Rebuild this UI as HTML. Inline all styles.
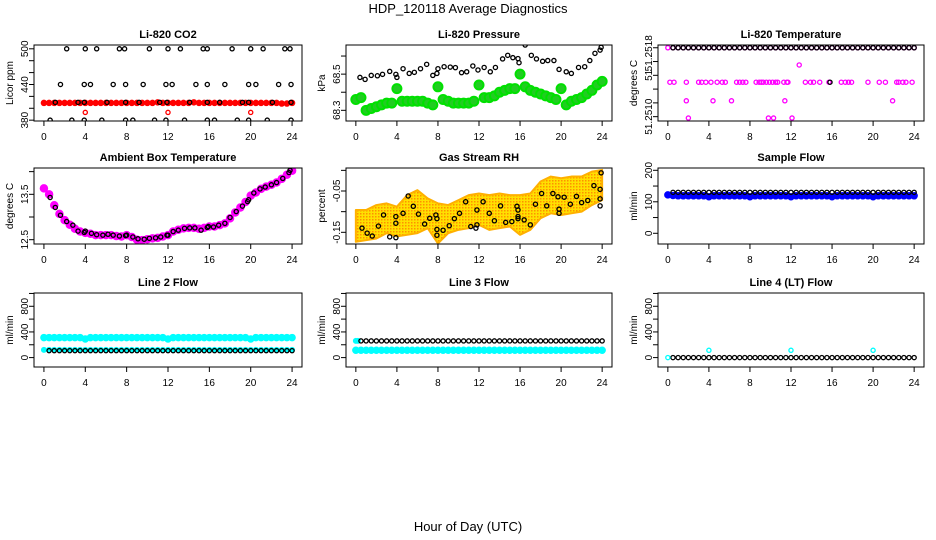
<!DOCTYPE html>
<html><head><meta charset="utf-8"><style>
html,body{margin:0;padding:0;background:#fff;}
svg{display:block;font-family:"Liberation Sans",sans-serif;}
</style></head><body>
<svg id="fig" width="936" height="540" viewBox="0 0 936 540">
<defs>
<pattern id="orangeDots" width="3" height="3" patternUnits="userSpaceOnUse">
<rect width="3" height="3" fill="#ffe000"/><rect width="1.5" height="1.5" fill="#ff9000"/>
</pattern>
</defs>
<text x="468" y="13" text-anchor="middle" font-size="13">HDP_120118  Average Diagnostics</text>
<text x="468" y="531" text-anchor="middle" font-size="13">Hour of Day (UTC)</text>
</svg>
<script>
// ---- shared categories ----
const halfHours = [0,0.5,1,1.5,2,2.5,3,3.5,4,4.5,5,5.5,6,6.5,7,7.5,8,8.5,9,9.5,10,10.5,11,11.5,12,12.5,13,13.5,14,14.5,15,15.5,16,16.5,17,17.5,18,18.5,19,19.5,20,20.5,21,21.5,22,22.5,23,23.5,24];
const xTickValues = [0,4,8,12,16,20,24];

// ---- Li-820 CO2 ----
const co2RedValues = [409,409,409,409,409,409,409,409,409,409,409,409,409,409,409,409,409,409,409,409,409,409,410,409,409,409,409,409,409,410,409,409,409,409,409,409,409,409,409,409,409,409,409,409,409,409,408,408,409];
const co2RedLowX = [4,12,20];
const co2RedLowY = [393,393,393];
const co2BlackX = [2.2,4,5.1,7.3,7.8,10.2,12,13.2,15.4,15.8,18.2,20,21.2,23.3,23.8, 1.6,3.9,4.5,6.7,7.9,9.6,11.8,12.4,14.7,15.8,17.5,19.8,20.5,22.7,23.9, 1.1,3.3,3.9,6.1,7.9,9.2,11.2,11.9,14.1,15.8,17.0,19.2,19.8,22.1,23.9, 0.6,2.7,3.9,5.6,7.9,8.6,10.7,11.8,13.6,15.8,16.5,18.7,19.8,21.6,23.9];
const co2BlackY = [500,500,500,500,500,500,500,500,500,500,500,500,500,500,500, 440,440,440,440,440,440,440,440,440,440,440,440,440,440,440, 410,410,410,410,410,410,410,410,410,410,410,410,410,410,410, 380,380,380,380,380,380,380,380,380,380,380,380,380,380,380];

// ---- Li-820 Pressure ----
const presGreenValues = [68.36,68.37,68.30,68.31,68.32,68.33,68.34,68.34,68.42,68.35,68.35,68.35,68.35,68.35,68.34,68.33,68.43,68.36,68.35,68.34,68.34,68.34,68.34,68.35,68.44,68.37,68.37,68.38,68.40,68.41,68.42,68.42,68.50,68.43,68.41,68.40,68.39,68.38,68.37,68.36,68.42,68.33,68.35,68.36,68.37,68.39,68.41,68.44,68.46];
const presBlackX = [0.4,0.9,1.5,2.1,2.6,3.3,3.9,4.0,4.6,5.2,5.7,6.3,6.9,7.5,7.9,8.0,8.6,9.2,9.7,10.3,10.8,11.4,11.9,12.5,13.1,13.6,14.3,14.8,15.3,15.8,15.9,16.5,17.1,17.6,18.2,18.7,19.3,19.8,20.5,21.0,21.7,22.3,22.8,23.3,23.8,23.9];
const presBlackY = [68.482,68.471,68.493,68.491,68.499,68.515,68.499,68.482,68.530,68.504,68.510,68.530,68.554,68.493,68.504,68.530,68.541,68.539,68.536,68.508,68.513,68.545,68.523,68.537,68.513,68.537,68.584,68.604,68.591,68.586,68.563,68.661,68.604,68.584,68.571,68.575,68.575,68.526,68.513,68.504,68.537,68.541,68.575,68.615,68.633,68.648];

// ---- Li-820 Temperature ----
const tempTopBlack = [51.2518,51.2518,51.2518,51.2518,51.2518,51.2518,51.2518,51.2518,51.2518,51.2518,51.2518,51.2518,51.2518,51.2518,51.2518,51.2518,51.2518,51.2518,51.2518,51.2518,51.2518,51.2518,51.2518,51.2518,51.2518,51.2518,51.2518,51.2518,51.2518,51.2518,51.2518,51.2518,51.2518,51.2518,51.2518,51.2518,51.2518,51.2518,51.2518,51.2518,51.2518,51.2518,51.2518,51.2518,51.2518,51.2518,51.2518,51.2518];
const tempMagX = [0.2,0.6,1.8,3.0,3.3,3.7,4.2,4.8,5.3,5.6,6.7,7.0,7.3,7.6,8.6,8.9,9.1,9.3,9.6,9.9,10.2,10.5,10.7,11.3,11.6,11.7,13.4,13.9,14.2,14.8,15.7,16.9,17.3,17.6,17.9,19.5,20.6,21.2,22.3,22.5,22.9,23.2,23.8, 1.8,4.4,6.2,11.4,21.9, 2.0,9.8,10.3,12.1, 12.8];
const tempMagY = [51.2513,51.2513,51.2513,51.2513,51.2513,51.2513,51.2513,51.2513,51.2513,51.2513,51.2513,51.2513,51.2513,51.2513,51.2513,51.2513,51.2513,51.2513,51.2513,51.2513,51.2513,51.2513,51.2513,51.2513,51.2513,51.2513,51.2513,51.2513,51.2513,51.2513,51.2513,51.2513,51.2513,51.2513,51.2513,51.2513,51.2513,51.2513,51.2513,51.2513,51.2513,51.2513,51.2513, 51.25103,51.25103,51.25103,51.25103,51.25103, 51.25078,51.25078,51.25078,51.25078, 51.25155];
const tempBlackOddX = [15.8];
const tempBlackOddY = [51.2513];

// ---- Ambient Box Temperature ----
const boxMagValues = [13.63,13.50,13.26,13.07,12.93,12.83,12.74,12.68,12.65,12.63,12.60,12.60,12.60,12.60,12.58,12.57,12.60,12.56,12.50,12.49,12.51,12.53,12.54,12.57,12.60,12.68,12.72,12.75,12.76,12.76,12.74,12.76,12.79,12.79,12.82,12.86,12.97,13.10,13.21,13.33,13.47,13.54,13.62,13.67,13.71,13.76,13.84,13.93,14.02];
const boxBlackX = [0.6,1.1,1.6,2.2,2.8,3.3,3.9,4.0,4.6,5.1,5.7,6.2,6.7,7.3,7.9,8.0,8.6,9.1,9.7,10.2,10.8,11.3,11.9,12.0,12.5,13.0,13.6,14.1,14.6,15.2,15.8,15.9,16.4,16.9,17.5,18.0,18.6,19.2,19.7,19.8,20.3,20.9,21.4,22.0,22.5,23.1,23.7,23.8];
const boxBlackY = [13.43,13.21,13.04,12.90,12.82,12.69,12.66,12.69,12.64,12.61,12.60,12.62,12.60,12.58,12.59,12.60,12.56,12.52,12.51,12.53,12.54,12.56,12.60,12.60,12.68,12.71,12.75,12.76,12.76,12.71,12.77,12.79,12.78,12.82,12.86,12.99,13.12,13.24,13.34,13.38,13.53,13.62,13.66,13.71,13.76,13.85,13.98,14.03];

// ---- Gas Stream RH ----
const rhHours = [0,1,2,3,4,5,6,7,8,9,10,11,12,13,14,15,16,17,18,19,20,21,22,23,24];
const rhBandUpper = [-0.096,-0.096,-0.084,-0.080,-0.088,-0.060,-0.048,-0.068,-0.080,-0.084,-0.072,-0.060,-0.056,-0.060,-0.056,-0.060,-0.060,-0.056,-0.027,-0.015,-0.019,-0.015,-0.015,-0.003,0.001];
const rhBandLower = [-0.173,-0.169,-0.165,-0.152,-0.160,-0.156,-0.152,-0.140,-0.177,-0.152,-0.144,-0.140,-0.132,-0.144,-0.140,-0.136,-0.156,-0.144,-0.116,-0.104,-0.108,-0.104,-0.100,-0.084,-0.072];
const rhBlackX = [0.6,1.1,1.6,2.2,2.7,3.3,3.9,3.9,3.9,4.6,5.1,5.6,6.1,6.7,7.2,7.8,7.9,7.9,7.9,8.5,9.1,9.6,10.1,10.7,11.2,11.7,11.8,11.8,12.4,13.0,13.5,14.1,14.6,15.2,15.7,15.8,15.8,15.8,16.4,17.0,17.5,18.1,18.6,19.2,19.7,19.8,19.8,20.3,20.9,21.5,22.0,22.6,23.2,23.8,23.8,23.8,23.9];
const rhBlackY = [-0.140,-0.152,-0.159,-0.135,-0.108,-0.161,-0.163,-0.128,-0.112,-0.104,-0.062,-0.087,-0.106,-0.130,-0.116,-0.108,-0.117,-0.143,-0.157,-0.145,-0.134,-0.117,-0.104,-0.076,-0.136,-0.140,-0.132,-0.096,-0.076,-0.104,-0.122,-0.086,-0.126,-0.124,-0.087,-0.096,-0.112,-0.117,-0.120,-0.132,-0.082,-0.056,-0.086,-0.056,-0.064,-0.094,-0.104,-0.065,-0.082,-0.063,-0.078,-0.073,-0.037,-0.086,-0.069,-0.046,-0.006];

// ---- Sample Flow ----
const sampleBlueValues = [122,120,119,119,119,119,119,119,116,119,119,119,119,119,119,119,116,119,119,119,119,119,119,119,116,119,119,119,119,119,119,119,116,119,119,119,119,119,119,119,116,119,119,119,119,119,119,119,119];
const sampleBlackValues = [130,130,130,130,130,130,130,130,130,130,130,130,130,130,130,130,130,130,130,130,130,130,130,130,130,130,130,130,130,130,130,130,130,130,130,130,130,130,130,130,130,130,130,130,130,130,130,130];

// ---- Line 2 Flow ----
const line2CyanHigh = [312,312,312,312,312,312,312,312,290,312,312,312,312,312,312,312,312,312,312,312,312,312,312,312,290,312,312,312,312,312,312,312,312,312,312,312,312,312,312,312,290,312,312,312,312,312,312,312,312];
const line2CyanLow = [120,120,120,120,120,120,120,120,120,120,120,120,120,120,120,120,120,120,120,120,120,120,120,120,120,120,120,120,120,120,120,120,120,120,120,120,120,120,120,120,120,120,120,120,120,120,120,120,120];
const line2Black = [108,108,108,108,108,108,108,108,108,108,108,108,108,108,108,108,108,108,108,108,108,108,108,108,108,108,108,108,108,108,108,108,108,108,108,108,108,108,108,108,108,108,108,108,108,108,108,108];

// ---- Line 3 Flow ----
const line3CyanLow = [114,114,114,114,114,114,114,114,114,114,114,114,114,114,114,114,114,114,114,114,114,114,114,114,114,114,114,114,114,114,114,114,114,114,114,114,114,114,114,114,114,114,114,114,114,114,114,114,114];
const line3CyanStartX = [0,0.2];
const line3CyanStartY = [260,260];
const line3Black = [260,260,260,260,260,260,260,260,260,260,260,260,260,260,260,260,260,260,260,260,260,260,260,260,260,260,260,260,260,260,260,260,260,260,260,260,260,260,260,260,260,260,260,260,260,260,260,260];

// ---- Line 4 (LT) Flow ----
const line4Black = [0,0,0,0,0,0,0,0,0,0,0,0,0,0,0,0,0,0,0,0,0,0,0,0,0,0,0,0,0,0,0,0,0,0,0,0,0,0,0,0,0,0,0,0,0,0,0,0];
const line4CyanX = [0,4,12,20];
const line4CyanY = [0,114,114,114];

// ---------- drawing ----------
const NS = 'http://www.w3.org/2000/svg';
const svg = document.getElementById('fig');
function mk(tag, attrs, parent){
  const e = document.createElementNS(NS, tag);
  for (const k in attrs) e.setAttribute(k, attrs[k]);
  (parent||svg).appendChild(e);
  return e;
}
function makePanel(opt){
  const g = mk('g', {});
  
  
  const b = opt.box;
  const xd = [-0.96, 24.96];
  const sx = v => b[0] + (v - xd[0]) / (xd[1] - xd[0]) * (b[2] - b[0]);
  const sy = v => b[3] - (v - opt.yd[0]) / (opt.yd[1] - opt.yd[0]) * (b[3] - b[1]);
  const t = mk('text', {x:(b[0]+b[2])/2, y:b[1]-7, 'text-anchor':'middle', 'font-size':11, 'font-weight':'bold'}, g);
  t.textContent = opt.title;
  
  
  const clipId = 'c' + Math.round(b[0]) + '_' + Math.round(b[1]);
  const cp = mk('clipPath', {id: clipId}, g);
  mk('rect', {x:b[0], y:b[1], width:b[2]-b[0], height:b[3]-b[1]}, cp);
  const plot = mk('g', {'clip-path':'url(#' + clipId + ')'}, g);
  
  
  const xa = mk('g', {}, g);
  
  
  mk('line', {x1:sx(xTickValues[0]), x2:sx(xTickValues[xTickValues.length-1]), y1:b[3], y2:b[3], stroke:'#000'}, xa);
  xTickValues.forEach(v => {
    mk('line', {x1:sx(v), x2:sx(v), y1:b[3], y2:b[3]+5, stroke:'#000'}, xa);
    const tx = mk('text', {x:sx(v), y:b[3]+19, 'text-anchor':'middle', 'font-size':10}, xa);
    tx.textContent = String(v);
  });
  const ya = mk('g', {}, g);
  
  
  opt.yticks.forEach(v => {
    mk('line', {x1:b[0]-5, x2:b[0], y1:sy(v), y2:sy(v), stroke:'#000'}, ya);
  });
  opt.ylabVals.forEach((v, i) => {
    const ty = mk('text', {transform:'translate(' + (b[0]-6) + ',' + sy(v) + ') rotate(-90)', 'text-anchor':'middle', 'font-size':10}, ya);
    ty.textContent = opt.ylabTexts[i];
  });
  const yt = mk('text', {transform:'translate(' + (b[0]-21) + ',' + ((b[1]+b[3])/2) + ') rotate(-90)', 'text-anchor':'middle', 'font-size':10}, g);
  yt.textContent = opt.ylab;
  
  
  return {g, plot, sx, sy, b};
}
function points(p, xs, ys, color, r, sw, fill, name){
  const sg = mk('g', {}, p.plot);
  
  
  for (let i = 0; i < ys.length; i++){
    mk('circle', {cx:p.sx(xs[i]), cy:p.sy(ys[i]), r:r, fill:fill||'none', stroke:color, 'stroke-width':sw}, sg);
  }
}
function frame(p){
  const b = p.b;
  const f = mk('rect', {x:b[0], y:b[1], width:b[2]-b[0], height:b[3]-b[1], fill:'none', stroke:'#000', 'stroke-width':1}, p.g);
  
  
}
const fromHalf = halfHours.slice(1);
const R = 2.1, SW = 1.3;

let p = makePanel({name:'co2-panel', title:'Li-820 CO2', ylab:'Licor ppm', box:[34,45,302,121], yd:[378.6,506.4], yticks:[380,400,420,440,460,480,500], ylabVals:[380,440,500], ylabTexts:['380','440','500']});
points(p, halfHours, co2RedValues, '#ff0000', 2, 2.5, '#ff0000', 'co2-red-series');
points(p, co2RedLowX, co2RedLowY, '#ff0000', R, SW, 'none', 'co2-red-low-points');
points(p, co2BlackX, co2BlackY, '#000', R, SW, 'none', 'co2-black-series');
frame(p);

p = makePanel({name:'pressure-panel', title:'Li-820 Pressure', ylab:'kPa', box:[346,45,612,121], yd:[68.241,68.661], yticks:[68.3,68.4,68.5,68.6], ylabVals:[68.3,68.5], ylabTexts:['68.3','68.5']});
points(p, halfHours, presGreenValues, '#00e000', 4.5, 2, '#22cc22', 'pressure-green-series');
points(p, presBlackX, presBlackY, '#000', R, SW, 'none', 'pressure-black-series');
frame(p);

p = makePanel({name:'li820-temperature-panel', title:'Li-820 Temperature', ylab:'degrees C', box:[658,45,924,121], yd:[51.250737,51.25184], yticks:[51.2518,51.2516,51.2514,51.2512,51.2510,51.2508], ylabVals:[51.25172,51.2514,51.2508], ylabTexts:['51.2518','51','51.2510']});
points(p, halfHours, halfHours.map(() => 51.2518), '#ff00ff', R, SW, 'none', 'temp-magenta-top');
points(p, fromHalf, tempTopBlack, '#000', R, SW, 'none', 'temp-black-top');
points(p, tempMagX, tempMagY, '#ff00ff', R, SW, 'none', 'temp-magenta-series');
points(p, tempBlackOddX, tempBlackOddY, '#000', R, SW, 'none', 'temp-black-odd');
frame(p);

p = makePanel({name:'ambient-box-temperature-panel', title:'Ambient Box Temperature', ylab:'degrees C', box:[34,168,302,244], yd:[12.405,14.08], yticks:[12.5,13.0,13.5,14.0], ylabVals:[12.5,13.5], ylabTexts:['12.5','13.5']});
points(p, halfHours, boxMagValues, '#ff00ff', 3, 2.5, '#ff00ff', 'box-magenta-series');
points(p, boxBlackX, boxBlackY, '#000', R, SW, 'none', 'box-black-series');
frame(p);

p = makePanel({name:'gas-stream-rh-panel', title:'Gas Stream RH', ylab:'percent', box:[346,168,612,244], yd:[-0.1783,0.0057], yticks:[-0.15,-0.10,-0.05,0.0], ylabVals:[-0.15,-0.05], ylabTexts:['-0.15','-0.05']});
(function(){
  let d = '';
  rhHours.forEach((h,i) => { d += (i ? 'L' : 'M') + p.sx(h) + ',' + p.sy(rhBandUpper[i]); });
  for (let i = rhHours.length - 1; i >= 0; i--) d += 'L' + p.sx(rhHours[i]) + ',' + p.sy(rhBandLower[i]);
  d += 'Z';
  const band = mk('path', {d:d, fill:'url(#orangeDots)', stroke:'#ffb000', 'stroke-width':2, 'stroke-linejoin':'round'}, p.plot);
  
  
})();
points(p, rhBlackX, rhBlackY, '#000', R, SW, 'none', 'rh-black-series');
frame(p);

p = makePanel({name:'sample-flow-panel', title:'Sample Flow', ylab:'ml/min', box:[658,168,924,244], yd:[-34,207.3], yticks:[0,50,100,150,200], ylabVals:[0,100,200], ylabTexts:['0','100','200']});
points(p, halfHours, sampleBlueValues, '#0000ff', 2.5, 2.5, '#0000ff', 'sample-blue-series');
points(p, fromHalf, sampleBlackValues, '#000', R, SW, 'none', 'sample-black-series');
frame(p);

const flowTicks = [0,200,400,600,800,1000];
p = makePanel({name:'line2-flow-panel', title:'Line 2 Flow', ylab:'ml/min', box:[34,293,302,367], yd:[-146.6,1007], yticks:flowTicks, ylabVals:[0,400,800], ylabTexts:['0','400','800']});
points(p, halfHours, line2CyanHigh, '#00ffff', 2.5, 2.5, '#00ffff', 'line2-cyan-high');
points(p, halfHours, line2CyanLow, '#00ffff', 2, 2, '#00ffff', 'line2-cyan-low');
points(p, fromHalf, line2Black, '#000', R, SW, 'none', 'line2-black-series');
frame(p);

p = makePanel({name:'line3-flow-panel', title:'Line 3 Flow', ylab:'ml/min', box:[346,293,612,367], yd:[-146.6,1007], yticks:flowTicks, ylabVals:[0,400,800], ylabTexts:['0','400','800']});
points(p, halfHours, line3CyanLow, '#00ffff', 2.5, 2.5, '#00ffff', 'line3-cyan-low');
points(p, line3CyanStartX, line3CyanStartY, '#00ffff', 2, 2, '#00ffff', 'line3-cyan-start');
points(p, fromHalf, line3Black, '#000', R, SW, 'none', 'line3-black-series');
frame(p);

p = makePanel({name:'line4-flow-panel', title:'Line 4 (LT) Flow', ylab:'ml/min', box:[658,293,924,367], yd:[-146.6,1007], yticks:flowTicks, ylabVals:[0,400,800], ylabTexts:['0','400','800']});
points(p, fromHalf, line4Black, '#000', R, SW, 'none', 'line4-black-series');
points(p, line4CyanX, line4CyanY, '#00ffff', R, SW, 'none', 'line4-cyan-series');
frame(p);
</script>
</body></html>
